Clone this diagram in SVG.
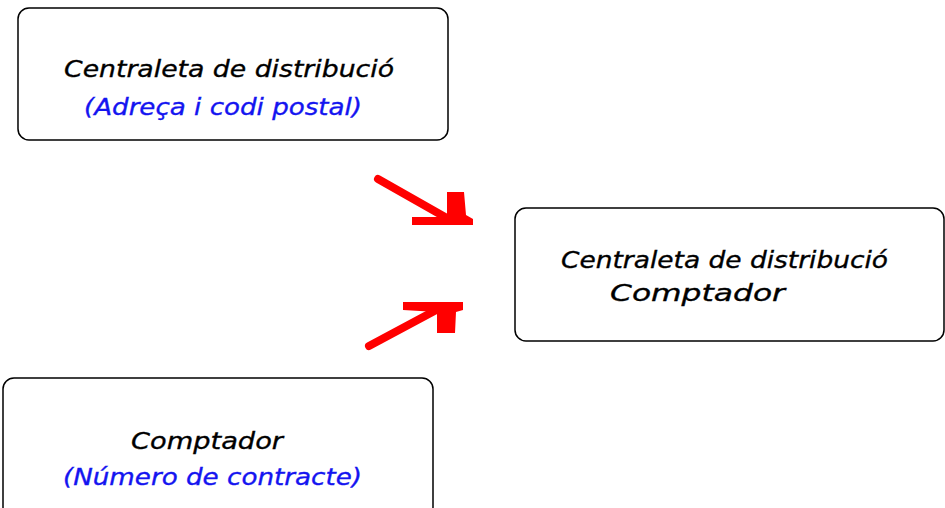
<svg xmlns="http://www.w3.org/2000/svg" width="945" height="508" viewBox="0 0 945 508">
<style>
.box{fill:#fff;stroke:#000;stroke-width:1.5}
.t{font-family:"DejaVu Sans",sans-serif;font-style:italic;font-size:23px;fill:#000;stroke:#000;stroke-width:0.35}
.b{fill:#1414f0;stroke:#1414f0}
.arr{fill:none;stroke:#ff0000;stroke-width:8;stroke-linecap:round}
.head{fill:#ff0000}
</style>
<rect width="945" height="508" fill="#fff"/>
<g id="node-centraleta">
<rect class="box" x="18" y="8" width="430" height="132" rx="11"/>
<text class="t" x="64" y="77" textLength="330" lengthAdjust="spacingAndGlyphs">Centraleta de distribució</text>
<text class="t b" x="84" y="115" textLength="278" lengthAdjust="spacingAndGlyphs">(Adreça i codi postal)</text>
</g>
<g id="node-result">
<rect class="box" x="515" y="208" width="429" height="133" rx="11"/>
<text class="t" x="561" y="268" textLength="327" lengthAdjust="spacingAndGlyphs">Centraleta de distribució</text>
<text class="t" x="610" y="301" textLength="175" lengthAdjust="spacingAndGlyphs">Comptador</text>
</g>
<g id="node-comptador">
<rect class="box" x="3" y="378" width="430" height="140" rx="11"/>
<text class="t" x="131" y="449" textLength="152" lengthAdjust="spacingAndGlyphs">Comptador</text>
<text class="t b" x="63" y="485" textLength="299" lengthAdjust="spacingAndGlyphs">(Número de contracte)</text>
</g>
<g id="connectors">
<path class="arr" d="M378,179 L445,217"/>
<polygon class="head" points="447,192 464,192 466,215 473,219 473,225 412,225 412,217 447,217"/>
<path class="arr" d="M369,346 L440,308"/>
<polygon class="head" points="403,302 463,302 463,310 456,312 455,333 437,333 437,312 403,310"/>
</g>
</svg>
